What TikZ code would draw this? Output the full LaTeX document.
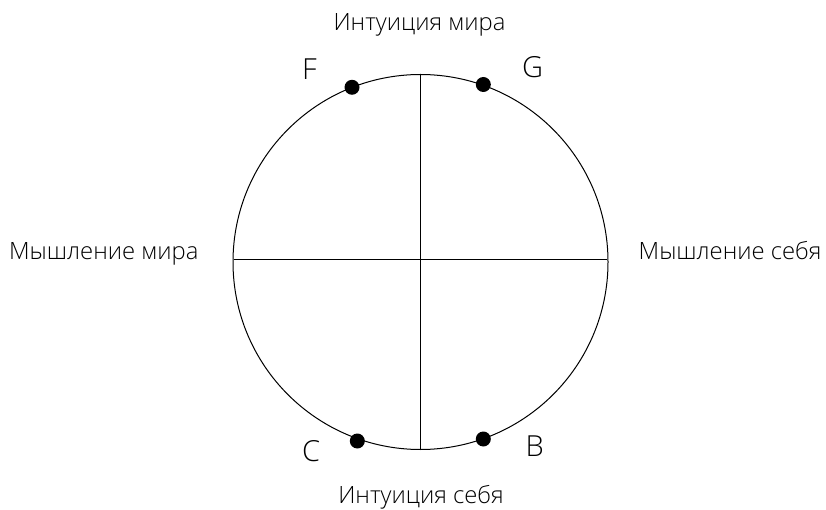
\documentclass[tikz,border=0pt]{standalone}
\usepackage{fontspec}
\setmainfont{Open Sans}[UprightFont=* Light]
\begin{document}
\begin{tikzpicture}[x=1pt,y=-1pt,
  lbl/.style={inner sep=0pt,font=\fontsize{23.8}{26}\selectfont},
  ltr/.style={inner sep=0pt,font=\fontsize{29}{32}\selectfont},
  pt/.style={circle,fill=black,inner sep=0pt,minimum size=15pt},
  ln/.style={line width=1pt}]
\useasboundingbox (0,0) rectangle (826,510);
\node[circle,draw,line width=1pt,minimum size=375pt,inner sep=0pt] (c) at (420.5,262) {};
\coordinate (T) at (420,74.2);
\coordinate (Bo) at (420,449.8);
\coordinate (L) at (233.6,260);
\coordinate (R) at (607.4,260);
\draw[ln] (T) -- (Bo);
\draw[ln] (L) -- (R);
\node[pt] (dF) at (352,87.3) {};
\node[pt] (dG) at (483.3,84.5) {};
\node[pt] (dC) at (357.3,441) {};
\node[pt] (dB) at (483.3,439) {};
\node[ltr,anchor=base west] (F) at (302,80) {F};
\node[ltr,anchor=base west] (G) at (522,78) {G};
\node[ltr,anchor=base west] (C) at (302,461) {C};
\node[ltr,anchor=base west] (B) at (525.5,456.5) {B};
\node[lbl,anchor=base] (top) at (419.5,31) {Интуиция мира};
\node[lbl,anchor=base] (bot) at (421,503) {Интуиция себя};
\node[lbl,anchor=base west] (left) at (9,260) {Мышление мира};
\node[lbl,anchor=base west] (right) at (638.5,260) {Мышление себя};
\end{tikzpicture}
\end{document}
